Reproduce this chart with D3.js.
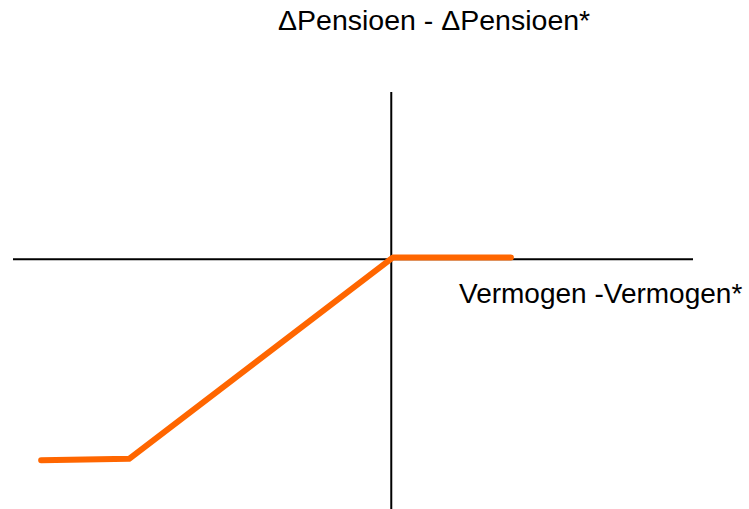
<!DOCTYPE html>
<html>
<head>
<meta charset="utf-8">
<script src="https://cdn.jsdelivr.net/npm/d3@7"></script>
<style>
html,body{margin:0;padding:0;background:#fff;}
svg{display:block;}
text{font-family:"Liberation Sans", Arial, Helvetica, sans-serif;fill:#000;}
</style>
</head>
<body>
<svg id="chart" width="749" height="509"></svg>
<script>
// Data (abstract units; origin = intersection of the axes)
const xDomain = [-4.3, 3.43];
const yDomain = [-2.84, 1.9];
const lineX = [-3.98, -2.98, 0.02, 1.36];
const lineY = [-2.285, -2.27, 0.02, 0.02];
const titleText = "ΔPensioen - ΔPensioen*";
const xLabelText = "Vermogen -Vermogen*";

const svg = d3.select("#chart");
const x = d3.scaleLinear().domain(xDomain).range([13, 693]);
const y = d3.scaleLinear().domain(yDomain).range([509, 92]);

// axes
svg.append("line")
  .attr("x1", x(xDomain[0])).attr("x2", x(xDomain[1]))
  .attr("y1", y(0)).attr("y2", y(0))
  .attr("stroke", "#000").attr("stroke-width", 2);
svg.append("line")
  .attr("x1", x(0)).attr("x2", x(0))
  .attr("y1", y(yDomain[1])).attr("y2", y(yDomain[0]))
  .attr("stroke", "#000").attr("stroke-width", 2);

// orange line
const pts = lineX.map((v, i) => [v, lineY[i]]);
svg.append("path")
  .datum(pts)
  .attr("d", d3.line().x(d => x(d[0])).y(d => y(d[1])))
  .attr("fill", "none")
  .attr("stroke", "#FF6600")
  .attr("stroke-width", 6)
  .attr("stroke-linecap", "round")
  .attr("stroke-linejoin", "round");

// texts
svg.append("text")
  .attr("x", 278).attr("y", 30)
  .attr("font-size", 28.5)
  .text(titleText);
svg.append("text")
  .attr("x", 459).attr("y", 303)
  .attr("font-size", 28)
  .text(xLabelText);
</script>
</body>
</html>
